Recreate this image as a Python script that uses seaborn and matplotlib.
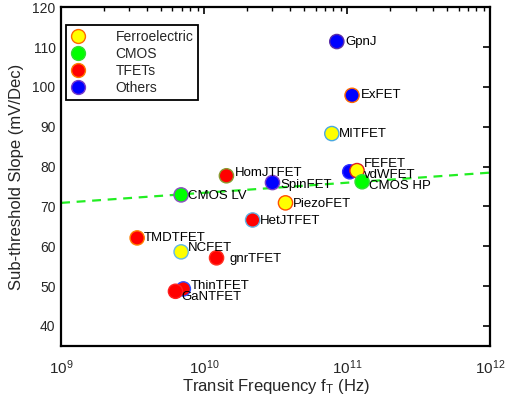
import matplotlib
matplotlib.use("Agg")
import matplotlib.pyplot as plt
import seaborn as sns
import pandas as pd
import numpy as np
from matplotlib.lines import Line2D
from matplotlib.ticker import LogLocator, FixedLocator, NullLocator

# ---- data ----
names = ["GpnJ", "ExFET", "MITFET", "vdWFET", "FEFET", "CMOS HP", "HomJTFET",
         "SpinFET", "CMOS LV", "PiezoFET", "HetJTFET", "TMDTFET", "NCFET",
         "gnrTFET", "ThinTFET", "GaNTFET"]
ft = [8.45e10, 1.08e11, 7.8e10, 1.04e11, 1.17e11, 1.27e11, 1.43e10,
      3.0e10, 6.9e9, 3.7e10, 2.18e10, 3.4e9, 6.9e9,
      1.22e10, 7.15e9, 6.3e9]
ss = [111.4, 97.9, 88.3, 78.7, 79.0, 76.2, 77.7,
      76.0, 72.9, 70.9, 66.6, 62.1, 58.6,
      57.1, 49.3, 48.7]
category = ["Others", "Others", "Ferroelectric", "Others", "Ferroelectric", "CMOS", "TFETs",
            "Others", "CMOS", "Ferroelectric", "TFETs", "TFETs", "Ferroelectric",
            "TFETs", "TFETs", "TFETs"]
categories = ["Ferroelectric", "CMOS", "TFETs", "Others"]
fit_x = [1e9, 1e12]
fit_y = [70.9, 78.5]
xticks = [1e9, 1e10, 1e11, 1e12]
xticklabels = ["$10^{9}$", "$10^{10}$", "$10^{11}$", "$10^{12}$"]
yticks = [40, 50, 60, 70, 80, 90, 100, 110, 120]

# ---- styles ----
palette = {"Ferroelectric": "#ffff00", "CMOS": "#00ff00", "TFETs": "#ff0000", "Others": "#0000ff"}
legend_edges = {"Ferroelectric": "#ff6a00", "CMOS": "#33dd33", "TFETs": "#ff7a00", "Others": "#7a3cc8"}
edge_by_name = {"GpnJ": "#5a2ca8", "ExFET": "#ff6a00", "MITFET": "#4aa8e0", "vdWFET": "#3030ff",
                "FEFET": "#e02020", "CMOS HP": "#33dd33", "HomJTFET": "#8a9a30",
                "SpinFET": "#7a3cc8", "CMOS LV": "#8a50c0", "PiezoFET": "#ff5000",
                "HetJTFET": "#60b0e0", "TMDTFET": "#ff8000", "NCFET": "#60b8e8",
                "gnrTFET": "#ff3020", "ThinTFET": "#3050ff", "GaNTFET": "#ff2020"}
label_offsets = {"GpnJ": (6, 0), "ExFET": (6, 0), "MITFET": (5, 0), "vdWFET": (10, -2),
                 "FEFET": (5, 5), "CMOS HP": (5, -3), "HomJTFET": (6, 2),
                 "SpinFET": (6, -2), "CMOS LV": (5, -1), "PiezoFET": (5, -1),
                 "HetJTFET": (5, -1), "TMDTFET": (5, 0), "NCFET": (5, 3),
                 "gnrTFET": (9, -1), "ThinTFET": (5, 2), "GaNTFET": (4, -4)}

df = pd.DataFrame({"name": names, "ft": ft, "ss": ss, "category": category})

sns.set_theme(style="white")
plt.rcParams["font.family"] = ["Liberation Sans", "DejaVu Sans"]
plt.rcParams["mathtext.fontset"] = "custom"
plt.rcParams["mathtext.rm"] = "Liberation Sans"
plt.rcParams["mathtext.it"] = "Liberation Sans:italic"

fig = plt.figure(figsize=(5.05, 4.05), dpi=100)
ax = fig.add_axes([0.121, 0.146, 0.850, 0.836])

text_color = "#262626"

sns.lineplot(x=fit_x, y=fit_y, ax=ax, color="#22ee22", linestyle=(0, (4, 3)), linewidth=1.6, zorder=1)

sns.scatterplot(data=df, x="ft", y="ss", hue="category", palette=palette, s=105,
                edgecolor=[edge_by_name[n] for n in names], linewidth=1.0,
                legend=False, ax=ax, zorder=3)

for n, x, y in zip(names, ft, ss):
    dx, dy = label_offsets[n]
    ax.annotate(n, (x, y), xytext=(dx, dy), textcoords="offset points",
                ha="left", va="center", fontsize=9.5, color="black", zorder=4)

ax.set_xscale("log")
ax.set_xlim(1e9, 1e12)
ax.set_ylim(35, 120)
ax.xaxis.set_major_locator(FixedLocator(xticks))
ax.set_xticklabels(xticklabels)
ax.xaxis.set_minor_locator(LogLocator(base=10, subs=np.arange(2, 10)))
ax.yaxis.set_major_locator(FixedLocator(yticks))
ax.yaxis.set_minor_locator(NullLocator())

ax.tick_params(axis="both", which="both", direction="in", top=True, right=True,
               labelcolor=text_color, color="black")
ax.tick_params(axis="both", which="major", length=5, width=1.2)
ax.tick_params(axis="x", which="minor", length=3, width=1.0)
ax.tick_params(axis="x", which="major", pad=9, labelsize=11)
ax.tick_params(axis="y", which="major", pad=4, labelsize=10)

for sp in ax.spines.values():
    sp.set_color("black")
    sp.set_linewidth(1.6)

ax.set_xlabel("Transit Frequency f$_\\mathrm{T}$ (Hz)", fontsize=12, color=text_color, labelpad=0)
ax.set_ylabel("Sub-threshold Slope (mV/Dec)", fontsize=12, color=text_color, labelpad=6)

handles = [Line2D([0], [0], marker="o", linestyle="none", markersize=10,
                  markerfacecolor=palette[c], markeredgecolor=legend_edges[c],
                  markeredgewidth=1.0, label=c) for c in categories]
leg = ax.legend(handles=handles, loc="upper left", bbox_to_anchor=(0.012, 0.947),
                borderaxespad=0, frameon=True, fancybox=False, fontsize=10,
                handlelength=1.0, handletextpad=2.2,
                borderpad=0.35, labelspacing=0.22, edgecolor="black")
leg.get_frame().set_linewidth(1.3)
leg.get_frame().set_alpha(1)

fig.savefig("out.png", dpi=100)
